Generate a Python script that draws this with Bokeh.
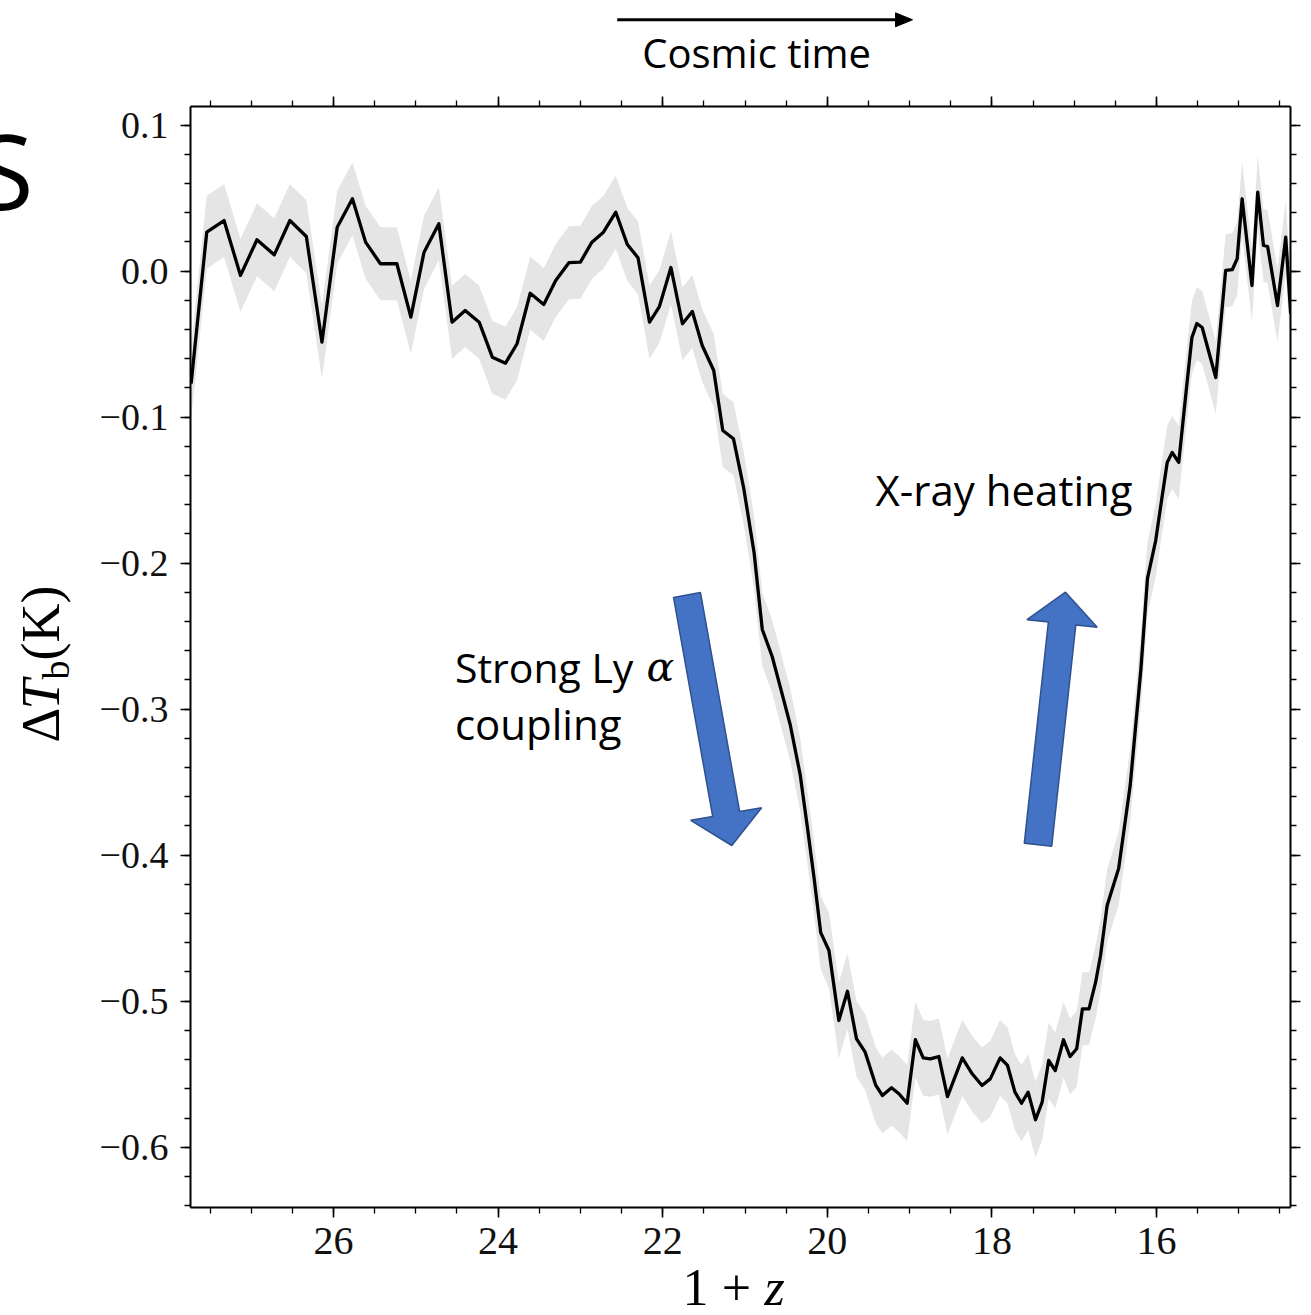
import math
from bokeh.plotting import figure
from bokeh.models import (Range1d, LinearAxis, FixedTicker, CustomJSTickFormatter,
                          PolyAnnotation, ColumnDataSource)
from bokeh.core.properties import value
from bokeh.embed import file_html
from bokeh.resources import INLINE

# ---------------- data ----------------
one_plus_z = [27.73, 27.54, 27.33, 27.13, 26.93, 26.72, 26.53, 26.33, 26.14, 25.955,
              25.77, 25.61, 25.43, 25.23, 25.06, 24.90, 24.72, 24.56, 24.40, 24.23,
              24.07, 23.91, 23.77, 23.61, 23.445, 23.30, 23.14, 23.00, 22.86, 22.72,
              22.57, 22.43, 22.30, 22.16, 22.04, 21.90, 21.76, 21.64, 21.52, 21.38,
              21.27, 21.14, 21.015, 20.89, 20.79, 20.67, 20.57, 20.45, 20.33, 20.24,
              20.16, 20.08, 19.98, 19.86, 19.755, 19.645, 19.54, 19.41, 19.33, 19.22,
              19.13, 19.03, 18.93, 18.835, 18.75, 18.645, 18.54, 18.36, 18.24, 18.12,
              18.02, 17.90, 17.81, 17.72, 17.64, 17.56, 17.47, 17.39, 17.31, 17.23,
              17.13, 17.05, 16.97, 16.90, 16.82, 16.74, 16.68, 16.60, 16.46, 16.32,
              16.19, 16.11, 16.01, 15.93, 15.87, 15.81, 15.73, 15.63, 15.57, 15.51,
              15.445, 15.28, 15.16, 15.08, 15.02, 14.96, 14.84, 14.77, 14.70, 14.65,
              14.53, 14.43, 14.37]

delta_Tb = [-0.077, 0.0267, 0.0347, -0.0029, 0.0215, 0.0112, 0.0347, 0.0238, -0.0486, 0.0301,
            0.0496, 0.0199, 0.0051, 0.0051, -0.0315, 0.013, 0.0325, -0.0349, -0.0269, -0.0349,
            -0.0589, -0.063, -0.0497, -0.0151, -0.0228, -0.0064, 0.0058, 0.0062, 0.0199, 0.0267,
            0.0404, 0.0183, 0.0092, -0.0349, -0.0242, 0.0025, -0.036, -0.0276, -0.0509, -0.068,
            -0.1091, -0.1148, -0.1488, -0.1927, -0.2454, -0.2639, -0.2851, -0.3108, -0.3447, -0.3817,
            -0.416, -0.453, -0.4653, -0.5132, -0.4932, -0.5258, -0.5349, -0.5577, -0.5646, -0.5593,
            -0.5634, -0.5699, -0.5264, -0.5388, -0.5395, -0.5379, -0.5653, -0.5388, -0.5497, -0.5577,
            -0.5532, -0.5388, -0.544, -0.5623, -0.5699, -0.5623, -0.5812, -0.5692, -0.5406, -0.5475,
            -0.5264, -0.5379, -0.5326, -0.5052, -0.5052, -0.487, -0.4687, -0.4345, -0.4091, -0.3523,
            -0.2728, -0.2105, -0.1845, -0.1536, -0.131, -0.1242, -0.131, -0.0769, -0.0454, -0.0358,
            -0.0386, -0.0728, 0.0005, 0.001, 0.0085, 0.0496, -0.0098, 0.0541, 0.0176, 0.0169,
            -0.0235, 0.0233, -0.029]

delta_Tb_err = [0.025, 0.025, 0.025, 0.025, 0.025, 0.025, 0.025, 0.025, 0.025, 0.025,
                0.025, 0.025, 0.025, 0.025, 0.025, 0.025, 0.025, 0.025, 0.025, 0.025,
                0.025, 0.025, 0.025, 0.025, 0.025, 0.025, 0.025, 0.025, 0.025, 0.025,
                0.025, 0.025, 0.025, 0.025, 0.025, 0.025, 0.025, 0.025, 0.025, 0.025,
                0.025, 0.025, 0.025, 0.025, 0.025, 0.025, 0.025, 0.025, 0.025, 0.025,
                0.025, 0.025, 0.026, 0.026, 0.026, 0.026, 0.026, 0.026, 0.026, 0.026,
                0.026, 0.026, 0.026, 0.026, 0.026, 0.026, 0.026, 0.026, 0.026, 0.026,
                0.026, 0.026, 0.026, 0.026, 0.026, 0.026, 0.026, 0.026, 0.026, 0.026,
                0.026, 0.026, 0.026, 0.025, 0.025, 0.025, 0.025, 0.025, 0.025, 0.025,
                0.025, 0.025, 0.025, 0.025, 0.025, 0.025, 0.025, 0.025, 0.025, 0.025,
                0.025, 0.025, 0.025, 0.025, 0.025, 0.025, 0.025, 0.025, 0.025, 0.025,
                0.025, 0.025, 0.025]

x_major_ticks = [16, 18, 20, 22, 24, 26]
x_minor_ticks = [14.5, 15.0, 15.5, 16.0, 16.5, 17.0, 17.5, 18.0, 18.5, 19.0, 19.5, 20.0, 20.5,
                 21.0, 21.5, 22.0, 22.5, 23.0, 23.5, 24.0, 24.5, 25.0, 25.5, 26.0, 26.5, 27.0, 27.5]
y_major_ticks = [-0.6, -0.5, -0.4, -0.3, -0.2, -0.1, 0.0, 0.1]
y_minor_ticks = [-0.64, -0.62, -0.6, -0.58, -0.56, -0.54, -0.52, -0.5, -0.48, -0.46, -0.44,
                 -0.42, -0.4, -0.38, -0.36, -0.34, -0.32, -0.3, -0.28, -0.26, -0.24, -0.22,
                 -0.2, -0.18, -0.16, -0.14, -0.12, -0.1, -0.08, -0.06, -0.04, -0.02, 0.0,
                 0.02, 0.04, 0.06, 0.08, 0.1]

# ---------------- layout ----------------
W, H = 1311, 1315
FL, FR, FT, FB = 190, 21, 106, 108          # borders around the frame
FW, FH = W - FL - FR, H - FT - FB
X_LEFT, X_RIGHT = 27.7375, 14.372
Y_TOP, Y_BOTTOM = 0.1128, -0.6413


def sx(px):
    """canvas pixel x -> data x (for annotation placement)"""
    return X_LEFT + (px - FL) * (X_RIGHT - X_LEFT) / FW


def sy(py):
    """canvas pixel y -> data y (for annotation placement)"""
    return Y_TOP - (py - FT) * (Y_TOP - Y_BOTTOM) / FH


p = figure(width=W, height=H, output_backend="svg", toolbar_location=None,
           x_range=Range1d(X_LEFT, X_RIGHT), y_range=Range1d(Y_BOTTOM, Y_TOP),
           x_axis_location=None, y_axis_location=None,
           min_border_left=FL, min_border_right=FR, min_border_top=FT, min_border_bottom=FB,
           background_fill_color="white", border_fill_color="white")
p.outline_line_color = None
p.xgrid.grid_line_color = None
p.ygrid.grid_line_color = None

SERIF = "Liberation Serif"
SANS = "Open Sans"
y_fmt = CustomJSTickFormatter(code="""
const v = Math.abs(tick) < 1e-9 ? 0 : tick;
const s = Math.abs(v).toFixed(1);
return v < 0 ? '\u2212' + s : s;
""")
blank_fmt = CustomJSTickFormatter(code="return '';")


def style_axis(ax, labels=True, size="38px", standoff=12):
    ax.axis_line_color = "black"
    ax.axis_line_width = 2
    ax.major_tick_line_color = "black"
    ax.major_tick_line_width = 1.6
    ax.major_tick_in = 0
    ax.major_tick_out = 10
    ax.minor_tick_line_color = "black"
    ax.minor_tick_line_width = 1.3
    ax.minor_tick_in = 0
    ax.minor_tick_out = 6
    if labels:
        ax.major_label_text_font = SERIF
        ax.major_label_text_font_size = size
        ax.major_label_text_color = "#111111"
        ax.major_label_standoff = standoff
    else:
        ax.major_label_text_font_size = "1px"
        ax.major_label_standoff = 0


xb = LinearAxis(ticker=FixedTicker(ticks=x_major_ticks, minor_ticks=x_minor_ticks))
style_axis(xb, True, "40px", 10)
p.add_layout(xb, "below")
xt = LinearAxis(ticker=FixedTicker(ticks=x_major_ticks, minor_ticks=x_minor_ticks), formatter=blank_fmt)
style_axis(xt, False)
p.add_layout(xt, "above")
yl = LinearAxis(ticker=FixedTicker(ticks=y_major_ticks, minor_ticks=y_minor_ticks), formatter=y_fmt)
style_axis(yl, True, "38px", 12)
p.add_layout(yl, "left")
yr = LinearAxis(ticker=FixedTicker(ticks=y_major_ticks, minor_ticks=y_minor_ticks), formatter=blank_fmt)
style_axis(yr, False)
p.add_layout(yr, "right")

# ---------------- data marks ----------------
src = ColumnDataSource(dict(
    x=one_plus_z, y=delta_Tb,
    lo=[v - e for v, e in zip(delta_Tb, delta_Tb_err)],
    hi=[v + e for v, e in zip(delta_Tb, delta_Tb_err)],
))
p.varea(x="x", y1="lo", y2="hi", source=src, fill_color="#e5e5e5", fill_alpha=1.0)
p.line(x="x", y="y", source=src, line_color="black", line_width=3.3, line_join="round")


# ---------------- block arrows ----------------
def block_arrow(tail, tip, w, W_, L):
    dx, dy = tip[0] - tail[0], tip[1] - tail[1]
    n = math.hypot(dx, dy)
    ux, uy = dx / n, dy / n
    nx, ny = -uy, ux
    bx, by = tip[0] - ux * L, tip[1] - uy * L
    pts = [(tail[0] + nx * w, tail[1] + ny * w), (bx + nx * w, by + ny * w),
           (bx + nx * W_, by + ny * W_), tip, (bx - nx * W_, by - ny * W_),
           (bx - nx * w, by - ny * w), (tail[0] - nx * w, tail[1] - ny * w)]
    return [sx(a) for a, _ in pts], [sy(b) for _, b in pts]


for tail, tip, w, W_, L in [((686.5, 594.5), (731.3, 845.0), 13.7, 36.0, 32.0),
                            ((1037.5, 844.3), (1065.0, 591.7), 13.8, 35.3, 31.5)]:
    xs, ys = block_arrow(tail, tip, w, W_, L)
    p.add_layout(PolyAnnotation(xs=xs, ys=ys, fill_color="#4472C4", fill_alpha=1.0,
                                line_color="#2F528F", line_alpha=1.0, line_width=1.5))

# "Cosmic time" arrow (overlay level, so it is not clipped to the frame)
p.segment(x0=[sx(616.7)], y0=[sy(19.3)], x1=[sx(897)], y1=[sy(19.3)],
          line_color="black", line_width=3, level="overlay")
p.patch(x=[sx(895), sx(912), sx(895)], y=[sy(12.3), sy(19.3), sy(26.3)],
        fill_color="black", line_color="black", line_width=1, level="overlay")

BASE_K = 0.42   # empirical shift of Bokeh's alphabetic baseline, in em


def add_text(px, py, text, font=SANS, size=41, style="normal", align="left", angle=0.0):
    off = BASE_K * size
    if angle == 0.0:
        py = py - off
    else:
        px = px - off
    p.text(x=[sx(px)], y=[sy(py)], text=[text], text_font=value(font),
           text_font_size=value(f"{size}px"), text_font_style=style, text_align=align,
           text_baseline="alphabetic", angle=angle, text_color="black", level="overlay")


add_text(641.7, 69, "Cosmic time", size=40)
add_text(875, 507, "X-ray heating", size=42)
add_text(454.4, 684, "Strong Ly")
add_text(646, 684, "α", font="DejaVu Serif", style="italic")
add_text(454.4, 741, "coupling", size=42)
add_text(33, 213, "S", size=105, align="right")

# axis titles built from pieces (math-like)
add_text(682, 1309, "1", font=SERIF, size=52)
add_text(736, 1309, "+", font=SERIF, size=52, align="center")
add_text(764, 1309, "z", font=SERIF, size=52, style="italic")

R = math.pi / 2
add_text(63, 742, "Δ", font=SERIF, size=54, angle=R)
add_text(63, 709, "T", font=SERIF, size=54, style="italic", angle=R)
add_text(71, 679, "b", font=SERIF, size=38, angle=R)
add_text(63, 660, "(K)", font=SERIF, size=54, angle=R)

open("out.html", "w").write(file_html(p, INLINE))
